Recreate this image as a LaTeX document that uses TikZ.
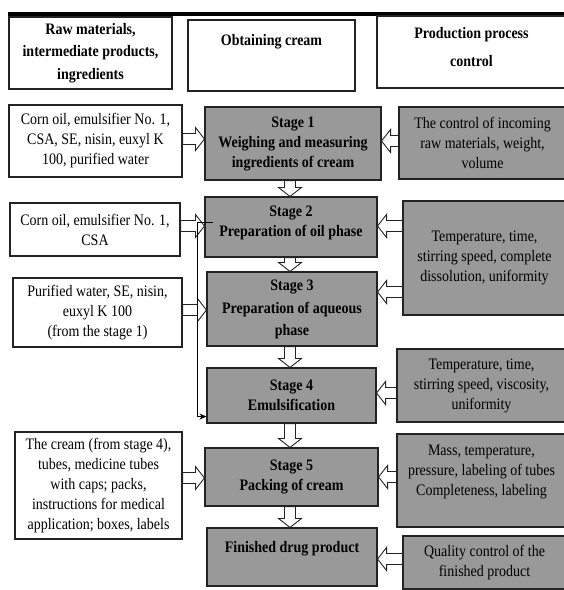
\documentclass[tikz,border=0pt]{standalone}
\usepackage{fontspec}
\setmainfont{Liberation Serif}[FakeStretch=0.875]
\usetikzlibrary{calc,arrows.meta}
\definecolor{boxgray}{RGB}{153,153,153}
\definecolor{edge}{RGB}{35,35,35}
\newcommand\fs{\fontsize{16pt}{20pt}\selectfont}
\newcommand\blockarr[2]{%
  \draw[blockarrow] let \p1=(#1), \p2=(#2),
    \n1={veclen(\x2-\x1,\y2-\y1)},
    \p3=({(\x2-\x1)/\n1*1pt},{(\y2-\y1)/\n1*1pt}) in
    ({\x1-5.5*(\y3)},{\y1+5.5*(\x3)})
    -- ({\x2-9*(\x3)-5.5*(\y3)},{\y2-9*(\y3)+5.5*(\x3)})
    -- ({\x2-9*(\x3)-11.5*(\y3)},{\y2-9*(\y3)+11.5*(\x3)})
    -- (\x2,\y2)
    -- ({\x2-9*(\x3)+11.5*(\y3)},{\y2-9*(\y3)-11.5*(\x3)})
    -- ({\x2-9*(\x3)+5.5*(\y3)},{\y2-9*(\y3)-5.5*(\x3)})
    -- ({\x1+5.5*(\y3)},{\y1-5.5*(\x3)}) -- cycle;}
\tikzset{
  boxbase/.style={draw=edge, line width=1.1pt, inner sep=0pt, align=center, font=\fs},
  whitebox/.style={boxbase, fill=white},
  graybox/.style={boxbase, fill=boxgray},
  stagebox/.style={graybox, font=\fs\bfseries},
  headbox/.style={whitebox, font=\fs\bfseries},
  blockarrow/.style={draw=edge, fill=white, line width=0.9pt, line join=miter},
  linkline/.style={draw=black, line width=1pt, -{Stealth[length=7pt,width=6pt]}}
}
\begin{document}
\begin{tikzpicture}[x=1pt,y=-1pt]
\useasboundingbox (0,0) rectangle (564,590);
\clip (0,0) rectangle (564,590);
\fill[white] (0,0) rectangle (564,590);
% top bar
\fill[black] (8,12) rectangle (566,15.5);
% headers
\node[headbox, minimum width=163pt, minimum height=72pt] (h1) at (90.5,53)
  {Raw materials,\\[2.5pt] intermediate products,\\[2.5pt] ingredients};
\node[headbox, minimum width=167pt, minimum height=71pt] (h2) at (271.5,55.5)
  {Obtaining cream\\[11pt]\mbox{}};
\node[headbox, minimum width=189pt, minimum height=72pt] (h3) at (471.5,52)
  {Production process\\[8pt] control\\[-9.4pt]\mbox{}};
% inputs
\node[whitebox, minimum width=173pt, minimum height=72pt] (in1) at (95.5,141)
  {Corn oil, emulsifier No. 1,\\ CSA, SE, nisin, euxyl K\\ 100, purified water};
\node[whitebox, minimum width=170pt, minimum height=53pt] (in2) at (95,229.5)
  {Corn oil, emulsifier No. 1,\\ CSA};
\node[whitebox, minimum width=169pt, minimum height=69pt] (in3) at (97.5,312.5)
  {Purified water, SE, nisin,\\ euxyl K 100\\ (from the stage 1)};
\node[whitebox, minimum width=167pt, minimum height=107pt] (in5) at (98.5,485.5)
  {The cream (from stage 4),\\ tubes, medicine tubes\\ with caps; packs,\\ instructions for medical\\ application; boxes, labels};
% stages
\node[stagebox, minimum width=176pt, minimum height=73pt] (s1) at (293,143.5)
  {Stage 1\\ Weighing and measuring\\ ingredients of cream};
\node[stagebox, minimum width=172pt, minimum height=60pt] (s2) at (291,227)
  {Stage 2\\ Preparation of oil phase\\[-8pt]\mbox{}};
\node[stagebox, minimum width=170pt, minimum height=74pt] (s3) at (292,309)
  {Stage 3\\[3pt] Preparation of aqueous\\[2pt] phase};
\node[stagebox, minimum width=169pt, minimum height=55pt] (s4) at (291.5,395.5)
  {Stage 4\\ Emulsification};
\node[stagebox, minimum width=173pt, minimum height=58pt] (s5) at (291.5,477)
  {Stage 5\\ Packing of cream};
\node[stagebox, minimum width=170pt, minimum height=58pt] (fin) at (292,557)
  {Finished drug product\\ \mbox{}};
% controls
\node[graybox, minimum width=167pt, minimum height=72pt] (c1) at (482.5,143)
  {The control of incoming\\ raw materials, weight,\\ volume};
\node[graybox, minimum width=163pt, minimum height=114pt] (c2) at (484.5,258)
  {Temperature, time,\\ stirring speed, complete\\ dissolution, uniformity};
\node[graybox, minimum width=169pt, minimum height=73pt] (c4) at (481.5,385.5)
  {Temperature, time,\\ stirring speed, viscosity,\\ uniformity};
\node[graybox, minimum width=169pt, minimum height=93pt] (c5) at (481.5,480.5)
  {Mass, temperature,\\ pressure, labeling of tubes\\ Completeness, labeling\\ \mbox{}};
\node[graybox, minimum width=163pt, minimum height=53pt] (c6) at (484.5,562.5)
  {Quality control of the\\ finished product};
% arrow rows
\coordinate (ya1) at (0,139);
\coordinate (ya2) at (0,226);
\coordinate (ya3) at (0,310);
\coordinate (ya5) at (0,478);
\coordinate (yb1) at (0,141);
\coordinate (yb2) at (0,226);
\coordinate (yb3) at (0,292);
\coordinate (yb4) at (0,393);
\coordinate (yb5) at (0,477);
\coordinate (yb6) at (0,559);
\coordinate (xd) at (290,0);
% inputs -> stages
\blockarr{in1.east |- ya1}{s1.west |- ya1}
\blockarr{in2.east |- ya2}{s2.west |- ya2}
\blockarr{in3.east |- ya3}{s3.west |- ya3}
\blockarr{in5.east |- ya5}{s5.west |- ya5}
% controls -> stages
\blockarr{c1.west |- yb1}{s1.east |- yb1}
\blockarr{c2.west |- yb2}{s2.east |- yb2}
\blockarr{c2.west |- yb3}{s3.east |- yb3}
\blockarr{c4.west |- yb4}{s4.east |- yb4}
\blockarr{c5.west |- yb5}{s5.east |- yb5}
\blockarr{c6.west |- yb6}{fin.east |- yb6}
% stage flow
\blockarr{xd |- s1.south}{xd |- s2.north}
\blockarr{xd |- s2.south}{xd |- s3.north}
\blockarr{xd |- s3.south}{xd |- s4.north}
\blockarr{xd |- s4.south}{xd |- s5.north}
\blockarr{xd |- s5.south}{xd |- fin.north}
% link from stage 2 inputs to stage 4
\coordinate (tick) at (213,222);
\draw[linkline] (tick) -- ++(-16,0) |- ([yshift=7pt]s4.south west);
\end{tikzpicture}
\end{document}
